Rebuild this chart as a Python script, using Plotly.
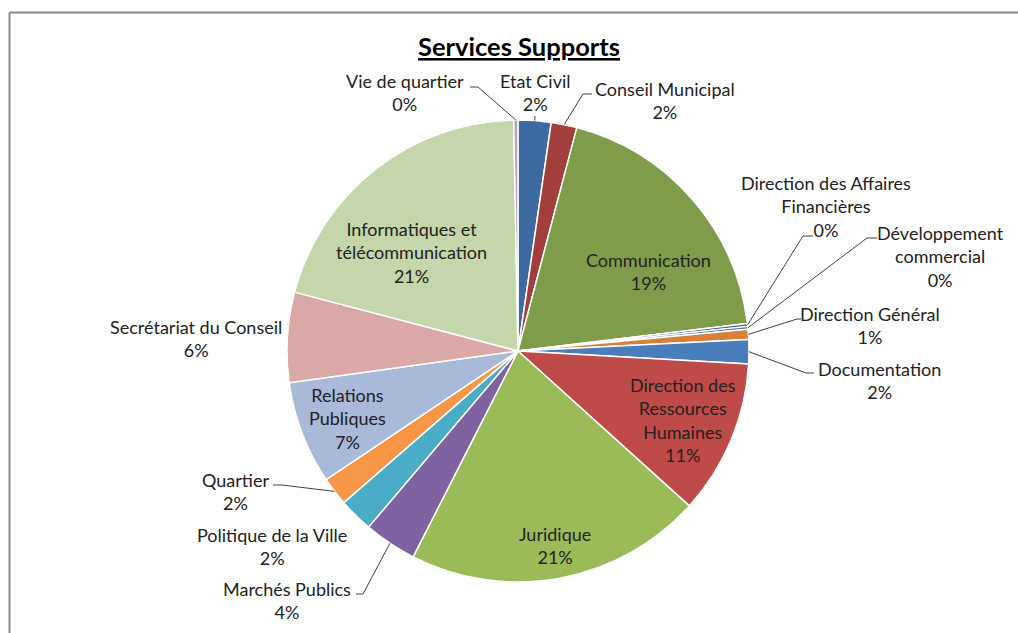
import math
import plotly.graph_objects as go

# Services and their share of the support workload (%)
services = [
    "Etat Civil", "Conseil Municipal", "Communication",
    "Direction des Affaires Financières", "Développement commercial",
    "Direction Général", "Documentation", "Direction des Ressources Humaines",
    "Juridique", "Marchés Publics", "Politique de la Ville", "Quartier",
    "Relations Publiques", "Secrétariat du Conseil",
    "Informatiques et télécommunication", "Vie de quartier",
]
shares = [2.3, 1.8, 19.0, 0.2, 0.2, 0.7, 1.7, 10.8,
          20.8, 3.7, 2.4, 2.0, 7.2, 6.3, 20.6, 0.3]

# Wrapped label text as drawn on the chart
label_text = [
    "Etat Civil", "Conseil Municipal", "Communication",
    "Direction des Affaires<br>Financières", "Développement<br>commercial",
    "Direction Général", "Documentation", "Direction des<br>Ressources<br>Humaines",
    "Juridique", "Marchés Publics", "Politique de la Ville", "Quartier",
    "Relations<br>Publiques", "Secrétariat du Conseil",
    "Informatiques et<br>télécommunication", "Vie de quartier",
]

colors = [
    "#3D6AA1", "#A23E3C", "#7F9C4B", "#664F86", "#3A8DA4", "#D6803A",
    "#4A7EBB", "#BE4B48", "#9BBB59", "#7F62A0", "#4AACC6", "#F79646",
    "#A9B9D9", "#D9A8A7", "#C4D6AA", "#B4A6CA",
]

W, H = 1018, 633
CX, CY, R = 518, 351, 231  # pie centre and radius in pixels

# Label block centres (px) and leader line elbow/end points (px)
label_pos = [
    (535, 93), (665, 100), (648, 271), (826, 206), (940, 256),
    (870, 326), (879, 380), (683, 420), (555, 545), (287, 600),
    (272, 546), (235, 491), (347, 418), (196, 338), (411, 253), (405, 93),
]
leaders = [
    ((535, 116), (535, 116)), ((583, 94), (592, 94)), None,
    ((803, 236), (813, 236)), ((867, 238), (877, 238)),
    ((797, 319), (801, 319)), ((806, 373), (814, 373)), None, None,
    ((363, 594), (356, 594)), None, ((282, 485), (273, 485)), None, None,
    None, ((478, 87), (470, 87)),
]

def px(x):
    return x / W

def py(y):
    return 1 - y / H

fig = go.Figure(go.Pie(
    labels=services,
    values=shares,
    sort=False,
    direction="clockwise",
    rotation=0,
    marker=dict(colors=colors, line=dict(color="white", width=1.5)),
    textinfo="none",
    hoverinfo="label+percent",
    domain=dict(x=[px(CX - R), px(CX + R)], y=[py(CY + R), py(CY - R)]),
    showlegend=False,
))

total = sum(shares)
annotations = []
shapes = []
cum = 0.0
for i, v in enumerate(shares):
    pct = round(v / total * 100)
    lx, ly = label_pos[i]
    annotations.append(dict(
        x=px(lx), y=py(ly), xref="paper", yref="paper",
        text=f"{label_text[i]}<br>{pct}%", showarrow=False,
        xanchor="center", yanchor="middle", align="center",
        font=dict(family="Lato, Carlito, sans-serif", size=18, color="#222222"),
    ))
    mid = (cum + v / 2) / total * 2 * math.pi
    cum += v
    if leaders[i] is not None:
        sx = CX + R * math.sin(mid)
        sy = CY - R * math.cos(mid)
        (ex1, ey1), (ex2, ey2) = leaders[i]
        path = (f"M {px(sx)},{py(sy)} L {px(ex1)},{py(ey1)} "
                f"L {px(ex2)},{py(ey2)}")
        shapes.append(dict(type="path", xref="paper", yref="paper", path=path,
                           line=dict(color="#404040", width=1)))

# Chart frame (top and left edges)
shapes.append(dict(type="line", xref="paper", yref="paper",
                   x0=px(9.5), y0=py(12.5), x1=px(W + 2), y1=py(12.5),
                   line=dict(color="#888888", width=2)))
shapes.append(dict(type="line", xref="paper", yref="paper",
                   x0=px(9.5), y0=py(12.5), x1=px(9.5), y1=py(H + 2),
                   line=dict(color="#888888", width=2)))

annotations.append(dict(
    x=px(519), y=py(46), xref="paper", yref="paper",
    text="<b><u>Services Supports</u></b>", showarrow=False,
    xanchor="center", yanchor="middle",
    font=dict(family="Lato, Carlito, sans-serif", size=25.5, color="#000000"),
))

fig.update_layout(
    width=W, height=H,
    margin=dict(l=0, r=0, t=0, b=0),
    paper_bgcolor="white", plot_bgcolor="white",
    annotations=annotations, shapes=shapes,
)

fig.write_html("out.html")
